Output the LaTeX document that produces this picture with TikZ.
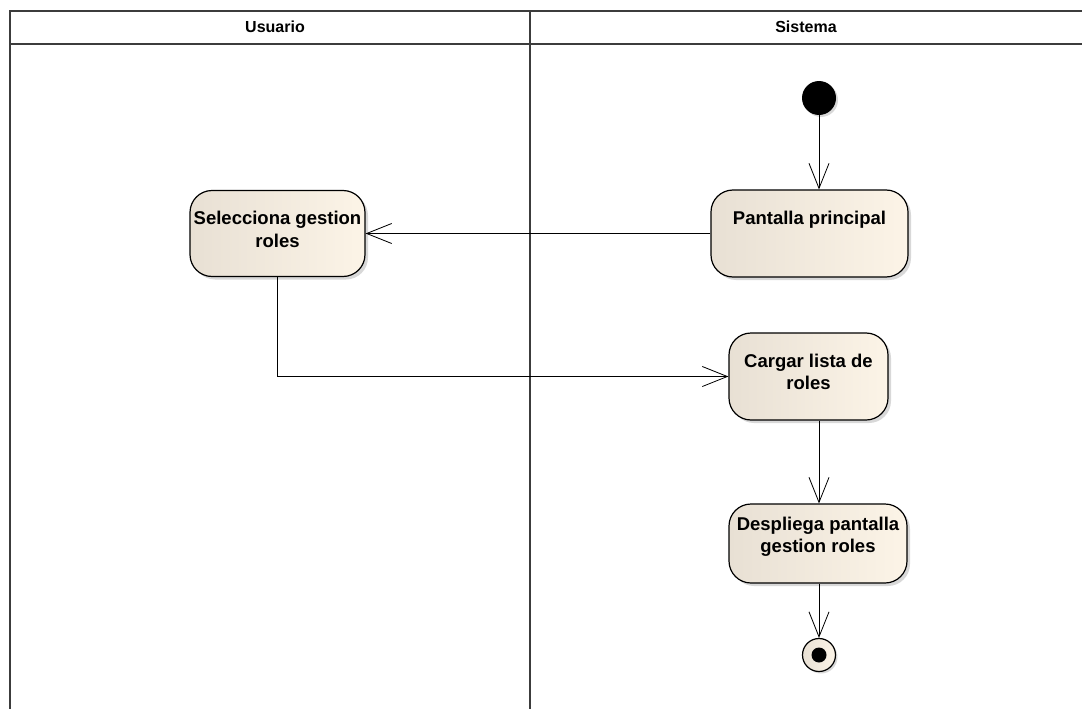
\documentclass[tikz,border=0pt]{standalone}
\usepackage{fontspec}
\setmainfont{Liberation Sans}
\usetikzlibrary{arrows.meta,shadows}

\definecolor{actleft}{RGB}{232,224,212}
\definecolor{actright}{RGB}{252,244,231}
\definecolor{lanegray}{RGB}{60,60,60}

\begin{document}
\begin{tikzpicture}[
  x=1pt, y=-1pt,
  every node/.style = {font=\fontsize{18.5}{22.7}\selectfont\bfseries},
  act/.style = {draw, rectangle, rounded corners=22pt, line width=1.2pt,
                left color=actleft, right color=actright, inner sep=0pt,
                drop shadow={shadow xshift=3pt, shadow yshift=-3pt, fill=black!30}},
  txt/.style = {anchor=north, align=center, inner sep=0pt, yshift=-21pt},
  lane/.style = {draw=lanegray, line width=1.4pt},
  flow/.style = {-{Straight Barb[length=25pt, width=20pt]}, line width=0.8pt},
]
\useasboundingbox (0,0) rectangle (1082,709);

% --- partitions ------------------------------------------------------------
\draw[lane] (10,709) -- (10,11) -- (1082,11);
\draw[lane] (10,44) -- (1082,44);
\draw[lane] (530,11) -- (530,709);
\node (usr) at (275,27) {\fontsize{16}{19}\selectfont Usuario};
\node (sys) at (806,27) {\fontsize{16}{19}\selectfont Sistema};

% --- actions ---------------------------------------------------------------
\node[circle, fill=black, minimum size=34pt, inner sep=0pt,
      drop shadow={shadow xshift=2pt, shadow yshift=-2pt, fill=black!30}] (ini) at (819,98) {};

\node[act, minimum width=197pt, minimum height=87pt,
      label={[txt]north:Pantalla principal}] (pp) at (809.5,233.5) {};
\node[act, minimum width=175pt, minimum height=86pt,
      label={[txt]north:Selecciona gestion\\roles}] (sel) at (277.5,233.5) {};
\node[act, minimum width=159pt, minimum height=87pt,
      label={[txt]north:Cargar lista de\\roles}] (clr) at (808.5,376.5) {};
\node[act, minimum width=178pt, minimum height=79pt,
      label={[txt, yshift=8pt]north:Despliega pantalla\\gestion roles}] (dpr) at (818,543.5) {};

\node[circle, draw, line width=1.2pt, minimum size=33pt, inner sep=0pt,
      left color=actleft, right color=actright,
      drop shadow={shadow xshift=2pt, shadow yshift=-2pt, fill=black!30}] (fin) at (819,655) {};
\node[circle, fill=black, minimum size=15pt, inner sep=0pt] (fdot) at (fin) {};

% --- flows -----------------------------------------------------------------
\draw[flow] (ini) -- (ini |- pp.north);
\draw[flow] (pp.west) -- (sel.east);
\draw[flow] (sel.south) |- (clr.west);
\draw[flow] (fin |- clr.south) -- (fin |- dpr.north);
\draw[flow] (fin |- dpr.south) -- (fin.north);

\end{tikzpicture}
\end{document}
